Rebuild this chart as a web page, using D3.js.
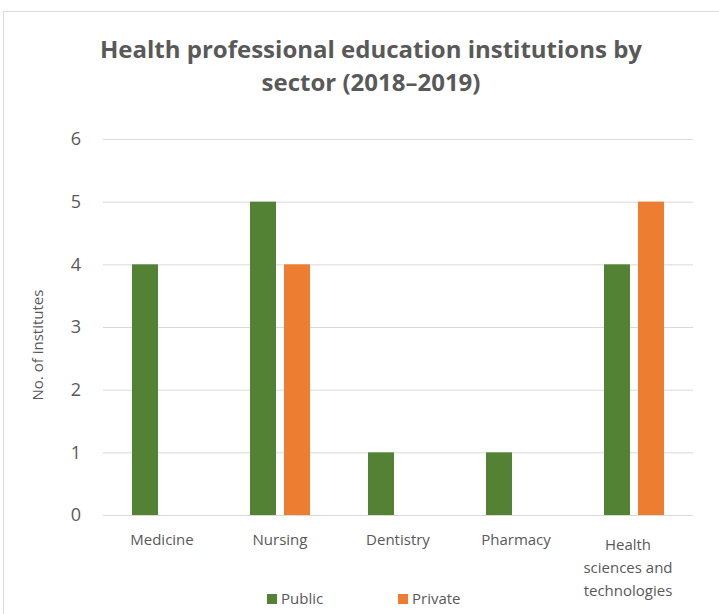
<!DOCTYPE html>
<html lang="en">
<head>
    <meta charset="UTF-8">
    <title>Health professional education institutions</title>
    <script src="https://d3js.org/d3.v7.min.js"></script>
    <style>
        body{ margin:0; background:#fff; }
        text{ font-family: "Open Sans", Lato, sans-serif; fill:#595959; }
    </style>
</head>
<body>
    <div id="chart"></div>
    <script>
        const categories = ['Medicine','Nursing','Dentistry','Pharmacy','Health sciences and technologies'];
        const series = ['Public','Private'];
        const publicVals = [4,5,1,1,4];
        const privateVals = [0,4,0,0,5];
        const yTicks = [0,1,2,3,4,5,6];
        const colors = {Public:'#548235', Private:'#ED7D31'};

        const width = 719, height = 614;
        const svg = d3.select('#chart').append('svg')
            .attr('width',width).attr('height',height);

        // outer chart frame (cut by the window at right/bottom)
        svg.append('rect')
            .attr('x',3.5).attr('y',11.5)
            .attr('width',730).attr('height',620)
            .attr('fill','none').attr('stroke','#d9d9d9');

        const title = svg.append('text')
            .attr('text-anchor','middle')
            .attr('font-size','24px')
            .attr('font-weight','bold');
        title.append('tspan').attr('x',371).attr('y',58).text('Health professional education institutions by');
        title.append('tspan').attr('x',371).attr('y',91).text('sector (2018–2019)');

        const x = d3.scaleBand().domain(categories).range([103,693]);
        const xi = d3.scaleBand().domain(series).range([-30,30]).paddingInner(2-60/34);
        const y = d3.scaleLinear().domain([0,6]).range([515,139]);

        // gridlines
        svg.append('g').selectAll('line')
            .data(yTicks)
            .join('line')
            .attr('x1',103).attr('x2',693)
            .attr('y1',d=>y(d)+0.5).attr('y2',d=>y(d)+0.5)
            .attr('stroke','#d9d9d9').attr('stroke-width',1);

        // y tick labels
        svg.append('g').selectAll('text')
            .data(yTicks)
            .join('text')
            .attr('x',81).attr('y',d=>y(d))
            .attr('dy','0.35em')
            .attr('text-anchor','end')
            .attr('font-size','18px')
            .text(d=>d);

        svg.append('text')
            .attr('transform','translate(43,345) rotate(-90)')
            .attr('text-anchor','middle')
            .attr('font-size','15px')
            .text('No. of institutes');

        const rows = categories.map((c,i)=>({cat:c, Public:publicVals[i], Private:privateVals[i]}));

        svg.append('g').selectAll('g')
            .data(rows)
            .join('g')
            .attr('transform',d=>`translate(${x(d.cat)+x.bandwidth()/2},0)`)
            .selectAll('rect')
            .data(d=>series.map(s=>({s, v:d[s]})).filter(e=>e.v>0))
            .join('rect')
            .attr('x',d=>xi(d.s))
            .attr('width',xi.bandwidth())
            .attr('y',d=>y(d.v))
            .attr('height',d=>y(0)-y(d.v))
            .attr('fill',d=>colors[d.s]);

        // category labels, wrapped
        svg.append('g').selectAll('text')
            .data(categories)
            .join('text')
            .attr('text-anchor','middle')
            .attr('font-size','15px')
            .each(function(d){
                const t = d3.select(this);
                const cx = x(d)+x.bandwidth()/2;
                const lines = d.length>12 ? ['Health','sciences and','technologies'] : [d];
                const y0 = lines.length>1 ? 550 : 545;
                lines.forEach((l,i)=>{
                    t.append('tspan').attr('x',lines.length>1?cx-6:cx).attr('y',y0+i*23).text(l);
                });
            });

        // legend
        const legend = svg.append('g').selectAll('g')
            .data(series)
            .join('g')
            .attr('transform',(d,i)=>`translate(${267+i*131},594)`);
        legend.append('rect')
            .attr('width',10).attr('height',10)
            .attr('fill',d=>colors[d]);
        legend.append('text')
            .attr('x',14).attr('y',5).attr('dy','0.35em')
            .attr('font-size','15px')
            .text(d=>d);
    </script>
</body>
</html>
